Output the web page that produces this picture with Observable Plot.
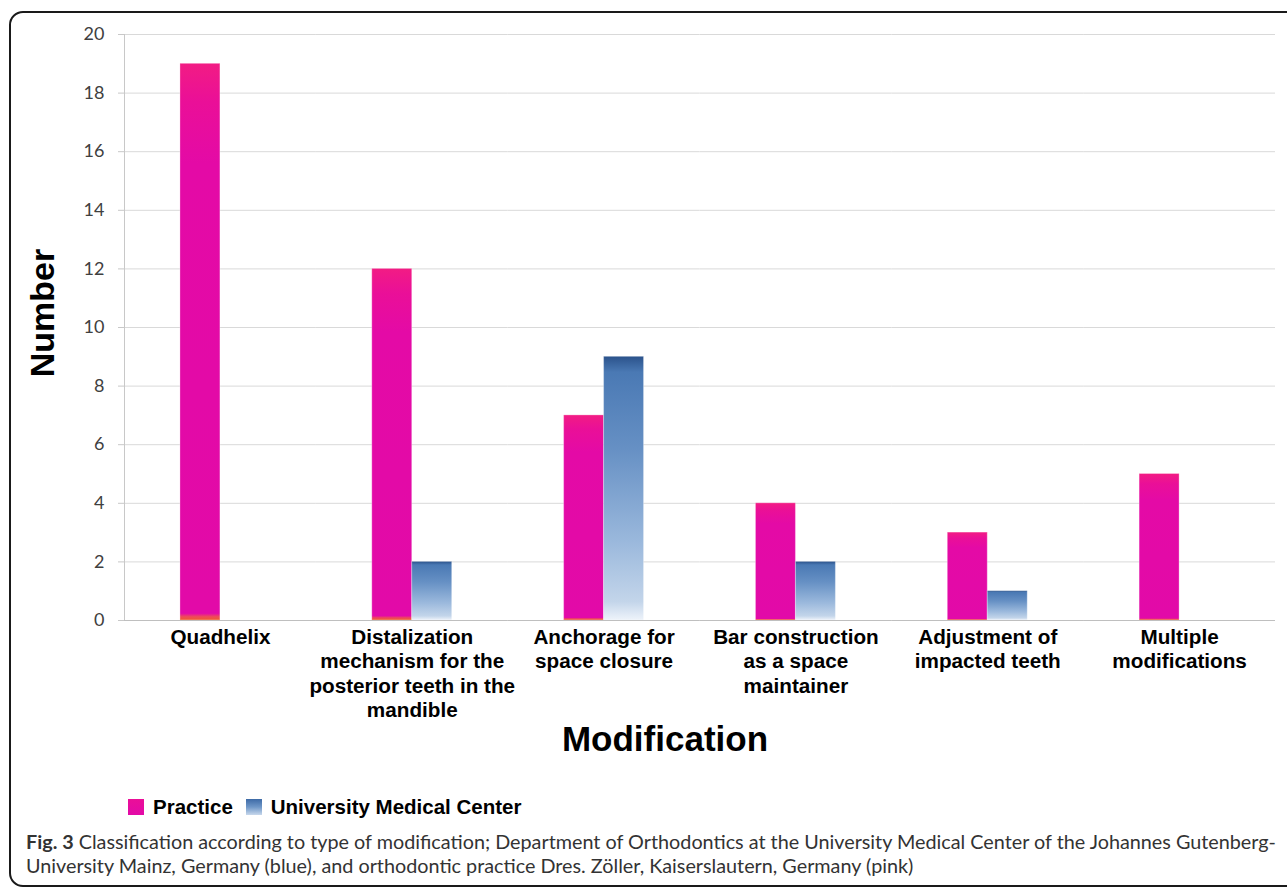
<!DOCTYPE html>
<html><head><meta charset="utf-8">
<script src="https://cdn.jsdelivr.net/npm/d3@7"></script>
<script src="https://cdn.jsdelivr.net/npm/@observablehq/plot@0.6"></script>
<style>
body{margin:0;background:#fff;}
#wrap{position:relative;width:1287px;height:887px;overflow:hidden;font-family:"Liberation Sans",Arial,sans-serif;background:#fff;}
#frame{position:absolute;left:9px;top:11px;width:1300px;height:876px;border:2px solid #1a1a1a;border-radius:14px;box-sizing:border-box;}
#chart{position:absolute;left:0;top:0;}
#ytitle{position:absolute;left:42px;top:313px;transform:translate(-50%,-50%) rotate(-90deg);font-weight:bold;font-size:34px;white-space:nowrap;color:#000;}
#xtitle{position:absolute;left:665px;top:739px;transform:translate(-50%,-50%);font-weight:bold;font-size:35px;white-space:nowrap;color:#000;}
#legend{position:absolute;left:128px;top:795px;display:flex;align-items:center;font-weight:bold;font-size:20.5px;color:#000;}
#legend span.item{display:flex;align-items:center;margin-right:13px;}
.sw{width:16px;height:16px;display:inline-block;margin-right:9px;}
#caption{position:absolute;left:26px;top:829px;font-family:Lato,"Open Sans",sans-serif;font-size:19.8px;line-height:24px;color:#333;white-space:nowrap;}
</style></head>
<body>
<div id="wrap">
  <div id="frame"></div>
  <div id="chart"></div>
  <div id="ytitle">Number</div>
  <div id="xtitle">Modification</div>
  <div id="legend"></div>
  <div id="caption"></div>
</div>
<script>
const categories = ["Quadhelix", "Distalization", "Anchorage", "Bar construction", "Adjustment", "Multiple"];
const categoryLabels = [
  "Quadhelix",
  "Distalization\nmechanism for the\nposterior teeth in the\nmandible",
  "Anchorage for\nspace closure",
  "Bar construction\nas a space\nmaintainer",
  "Adjustment of\nimpacted teeth",
  "Multiple\nmodifications"
];
const series = ["Practice", "University Medical Center"];
const practice = [19, 12, 7, 4, 3, 5];
const university = [0, 2, 9, 2, 1, 0];
const yTicks = [0, 2, 4, 6, 8, 10, 12, 14, 16, 18, 20];
const legendSwatches = ["linear-gradient(#ea0f98,#e20aa8)", "linear-gradient(#3d6aa6,#6f97c8,#c8d8ec)"];
const captionBold = "Fig. 3";
const captionLines = [
  " Classification according to type of modification; Department of Orthodontics at the University Medical Center of the Johannes Gutenberg-",
  "University Mainz, Germany (blue), and orthodontic practice Dres. Zöller, Kaiserslautern, Germany (pink)"
];

const rows = categories.flatMap((c, i) => [
  {category: c, series: series[0], value: practice[i]},
  {category: c, series: series[1], value: university[i]}
]);

const chart = Plot.plot({
  width: 1287,
  height: 720,
  marginTop: 34,
  marginBottom: 100,
  marginLeft: 124,
  marginRight: 12,
  style: {fontFamily: "Lato", fontSize: "18px", color: "#404040", background: "transparent", overflow: "visible"},
  fx: {domain: categories, padding: 0, round: false, label: null},
  x: {domain: series, paddingInner: 0, paddingOuter: 1.4, round: false, axis: null},
  y: {domain: [0, 20]},
  color: {domain: series, range: ["url(#gPink)", "url(#gBlue)"]},
  marks: [
    Plot.gridY(yTicks, {stroke: "#d9d9d9", strokeOpacity: 1}),
    Plot.axisY(yTicks, {tickSize: 6, tickPadding: 14, stroke: "#c8c8c8", label: null, fontSize: 18, fill: "#404040"}),
    Plot.axisFx({anchor: "bottom", tickSize: 0, tickPadding: 6, label: null, fontSize: 20.7, fontWeight: "bold", fontFamily: "Liberation Sans", fill: "#000", lineHeight: 1.18,
      tickFormat: d => categoryLabels[categories.indexOf(d)]}),
    Plot.barY(rows, {fx: "category", x: "series", y: "value", fill: "series", stroke: "#ffffff", strokeOpacity: 0.3, strokeWidth: 1}),
    Plot.ruleY([0], {stroke: "#bfbfbf"})
  ]
});

const svg = d3.select(chart);
const defs = svg.insert("defs", ":first-child");
const gp = defs.append("linearGradient").attr("id", "gPink").attr("x1", 0).attr("y1", 0).attr("x2", 0).attr("y2", 1);
[["0%", "#f21c84"], ["7%", "#ea0f98"], ["18%", "#e40aa6"], ["98.8%", "#e20aa8"], ["99.4%", "#ee4a5a"], ["100%", "#f05a30"]]
  .forEach(([o, c]) => gp.append("stop").attr("offset", o).attr("stop-color", c));
const gb = defs.append("linearGradient").attr("id", "gBlue").attr("x1", 0).attr("y1", 0).attr("x2", 0).attr("y2", 1);
[["0%", "#2b528b"], ["6%", "#4a79b4"], ["35%", "#6690c4"], ["70%", "#9ab8dc"], ["93%", "#c3d5ea"], ["100%", "#eef3fa"]]
  .forEach(([o, c]) => gb.append("stop").attr("offset", o).attr("stop-color", c));

// vertical axis line, positioned from the library's scales
const fxs = chart.scale("fx"), ys = chart.scale("y");
svg.append("line")
  .attr("x1", fxs.range[0] + 0.5).attr("x2", fxs.range[0] + 0.5)
  .attr("y1", ys.range[0]).attr("y2", ys.range[1])
  .attr("stroke", "#c8c8c8");

document.getElementById("chart").appendChild(chart);

const legend = document.getElementById("legend");
series.forEach((s, i) => {
  const item = document.createElement("span");
  item.className = "item";
  const sw = document.createElement("span");
  sw.className = "sw";
  sw.style.background = legendSwatches[i];
  item.appendChild(sw);
  item.appendChild(document.createTextNode(s));
  legend.appendChild(item);
});

const cap = document.getElementById("caption");
const b = document.createElement("b");
b.textContent = captionBold;
cap.appendChild(b);
cap.appendChild(document.createTextNode(captionLines[0]));
cap.appendChild(document.createElement("br"));
cap.appendChild(document.createTextNode(captionLines[1]));
</script>
</body></html>
